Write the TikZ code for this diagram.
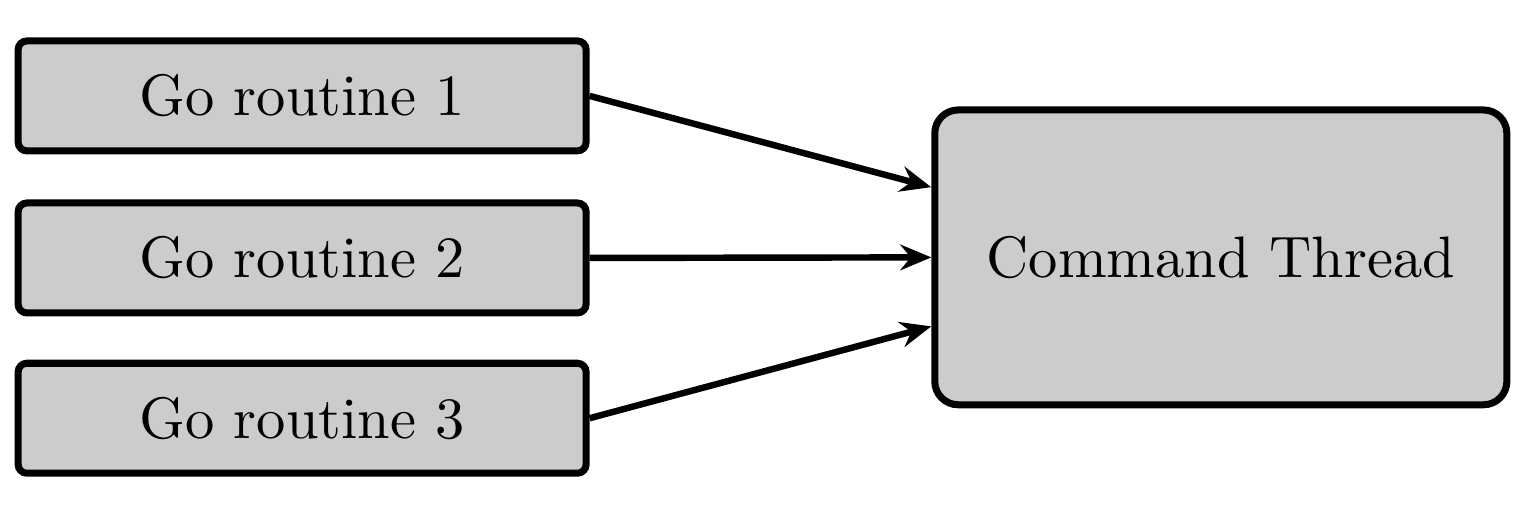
\documentclass[tikz,border=0pt]{standalone}
\usetikzlibrary{arrows.meta}
\begin{document}
\begin{tikzpicture}[x=1pt,y=1pt,
  gobox/.style={draw=black, very thick, fill=black!20, rounded corners=1.5pt,
    minimum width=97.1pt, minimum height=18.8pt, inner sep=0pt},
  cmdbox/.style={draw=black, very thick, fill=black!20, rounded corners=4pt,
    minimum width=97.8pt, minimum height=50.4pt, inner sep=0pt},
  link/.style={line width=1.1pt, -{Stealth[length=5.3pt,width=4.4pt,inset=1.8pt]}}]
\useasboundingbox (0,0) rectangle (261.9,-87.2);
\node[gobox] (g1) at (51.65,-16.4) {Go routine 1};
\node[gobox] (g2) at (51.65,-44.1) {Go routine 2};
\node[gobox] (g3) at (51.65,-71.5) {Go routine 3};
\node[cmdbox] (cmd) at (208.7,-44.0) {Command Thread};
\draw[link] (g1.east) -- ([yshift=12pt]cmd.west);
\draw[link] (g2.east) -- (cmd.west);
\draw[link] (g3.east) -- ([yshift=-11.8pt]cmd.west);
\end{tikzpicture}
\end{document}
